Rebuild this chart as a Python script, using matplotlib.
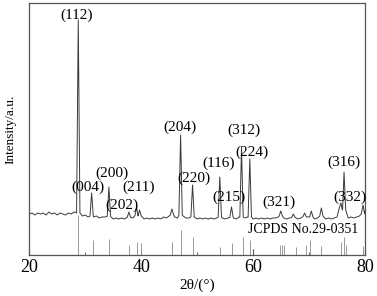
import numpy as np
import matplotlib
matplotlib.use("Agg")
import matplotlib.pyplot as plt

plt.rcParams['font.family'] = ['Liberation Serif', 'DejaVu Serif']

# background of the measured pattern, every 0.5 deg from 20 to 80
bg_y = [41, 42, 40, 42, 41, 42, 40, 43, 41, 42, 40, 42, 41, 40, 42, 41, 43, 44,
        40, 39, 40, 38, 39, 38, 39, 37, 38, 38, 39, 38, 36, 37, 36, 37, 36, 37,
        38, 37, 39, 40, 38, 36, 37, 36, 37, 36, 37, 36, 38, 37, 39, 40, 38, 37,
        40, 39, 37, 37, 38, 38, 36, 37, 36, 37, 36, 37, 36, 37, 38, 37, 36, 37,
        38, 37, 36, 38, 38, 37, 38, 38, 36, 37, 36, 37, 36, 37, 36, 37, 37, 38,
        39, 37, 36, 37, 38, 37, 36, 37, 39, 37, 38, 38, 36, 37, 40, 37, 36, 37,
        36, 37, 38, 45, 50, 40, 37, 38, 37, 38, 39, 40, 44]

# diffraction peaks: position (2theta) and peak height
peak_x = [28.75, 31.14, 34.23, 37.8, 39.18, 39.7, 45.5, 47.04, 49.18, 54.05,
          56.14, 57.93, 59.41, 64.95, 67.2, 69.2, 70.4, 72.2, 75.7, 76.25, 79.64]
peak_y = [235, 62, 68, 43, 48, 45, 46, 120, 70, 78,
          48, 107, 96, 44, 41, 42, 44, 47, 52, 83, 50]

# JCPDS 29-0351 reference sticks
ref_x = [28.75, 31.32, 34.29, 37.86, 39.18, 39.89, 45.54, 47.18, 49.29, 54.05,
         56.14, 58.11, 59.41, 64.89, 65.25, 65.54, 67.75, 69.41, 70.13, 72.21,
         75.79, 76.2, 76.68, 79.64]
ref_h = [40, 15, 16, 10, 13, 12, 13, 25, 18, 8,
         12, 18, 15, 10, 10, 10, 8, 10, 15, 9,
         13, 18, 10, 9]

labels = ['(112)', '(004)', '(200)', '(211)', '(202)', '(204)', '(220)', '(116)',
          '(215)', '(312)', '(224)', '(321)', '(316)', '(332)']
label_x = [28.5, 30.4, 34.8, 39.5, 36.5, 47.0, 49.5, 53.9, 55.6, 58.3, 59.8,
           64.6, 76.3, 77.3]
label_y = [240, 68, 82, 68, 50, 128, 77, 92, 58, 125, 103, 53, 93, 58]

bg_x = np.arange(20, 80.01, 0.5)
bg_y = np.array(bg_y, dtype=float)

# merge background and peak points into one curve
hw = 0.3
keep = np.ones(len(bg_x), bool)
px, py = [], []
for x0, h in zip(peak_x, peak_y):
    keep &= np.abs(bg_x - x0) > hw
    b = np.interp(x0, bg_x, bg_y)
    px += [x0 - hw, x0, x0 + hw]
    py += [b, h, b]
xs = np.concatenate([bg_x[keep], px])
ys = np.concatenate([bg_y[keep], py])
order = np.argsort(xs)
xs, ys = xs[order], ys[order]

fig = plt.figure(figsize=(3.77, 2.96), dpi=100)
ax = fig.add_axes([0.0777, 0.1385, 0.8905, 0.8515])

ax.vlines(ref_x, 0, ref_h, color='#9a9a9a', lw=0.7)
ax.plot(xs, ys, color='#3a3a3a', lw=0.7)

for t, x, y in zip(labels, label_x, label_y):
    ax.text(x, y, t, ha='center', va='center', fontsize=11)
ax.text(68.9, 25, 'JCPDS No.29-0351', ha='center', va='center', fontsize=10)

ax.set_xlim(20, 80)
ax.set_ylim(0, 252)
ax.set_xticks([20, 40, 60, 80])
ax.set_xticks([30, 50, 70], minor=True)
ax.set_yticks([])
ax.tick_params(axis='x', which='both', direction='in', labelsize=13, pad=3,
               color='#555555')
ax.tick_params(axis='x', which='major', length=4)
ax.tick_params(axis='x', which='minor', length=2.5)
for s in ax.spines.values():
    s.set_color('#555555')
    s.set_linewidth(0.9)

ax.set_xlabel('2θ/(°)', fontsize=11, labelpad=1.5)
ax.set_ylabel('Intensity/a.u.', fontsize=9.5, labelpad=9)

fig.savefig('out.png', dpi=100)
